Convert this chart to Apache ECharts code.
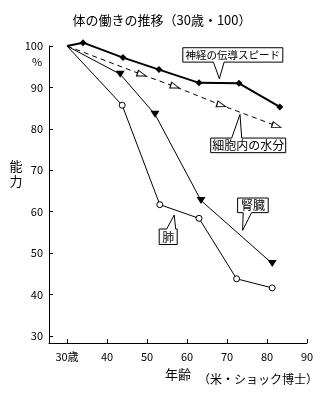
<!DOCTYPE html>
<html><head><meta charset="utf-8">
<script src="https://cdn.jsdelivr.net/npm/echarts@6/dist/echarts.min.js"></script>
<style>html,body{margin:0;padding:0;background:#fff}#c{width:328px;height:397px}</style>
</head><body><div id="c"></div>
<script>
// ---- data ----
const nerveAges = [30, 34, 44, 53, 63, 73, 83.2];
const nerveVals = [100, 100.8, 97.2, 94.3, 91.1, 91.0, 85.3];
const waterAges = [30, 48.7, 57, 68.6, 82.4];
const waterVals = [100, 93.1, 90.2, 85.7, 80.7];
const kidneyAges = [30, 43.3, 52, 63.5, 81.3];
const kidneyVals = [100, 93.2, 83.5, 62.7, 47.5];
const lungAges = [30, 43.8, 53.2, 63, 72.4, 81.3];
const lungVals = [100, 85.7, 61.7, 58.4, 43.8, 41.6];
const xTickValues = [30, 40, 50, 60, 70, 80, 90];
const xTickLabels = ['30歳', '40', '50', '60', '70', '80', '90'];
const yTickValues = [30, 40, 50, 60, 70, 80, 90, 100];
const yTickLabels = ['30', '40', '50', '60', '70', '80', '90', '100'];
const titleText = '体の働きの推移（30歳・100）';
const calloutTexts = ['神経の伝導スピード', '細胞内の水分', '腎臓', '肺'];
const calloutAnchors = [[68.1, 92.1], [73.25, 83.5], [73.9, 55.5], [56.8, 59.2]];

const FONT = '"Noto Sans CJK JP", "Noto Sans", sans-serif';
const chart = echarts.init(document.getElementById('c'));

function pts(ages, vals) {
  return ages.map((a, i) => i === 0 ? { value: [a, vals[i]], symbol: 'none' } : [a, vals[i]]);
}

chart.setOption({
  animation: false,
  backgroundColor: '#fff',
  title: {
    text: titleText, left: 157, top: 9, textAlign: 'center',
    textStyle: { fontFamily: FONT, fontSize: 13, fontWeight: 'normal', color: '#000' }
  },
  grid: { left: 49, right: 21, top: 46, bottom: 54 },
  xAxis: {
    type: 'value', min: 25.5, max: 90,
    axisLine: { lineStyle: { color: '#000', width: 1 } },
    axisTick: { inside: true, length: 4, lineStyle: { color: '#000' }, customValues: xTickValues },
    axisLabel: {
      customValues: xTickValues, margin: 8, color: '#000', fontFamily: FONT, fontSize: 11,
      formatter: v => xTickLabels[xTickValues.indexOf(v)]
    },
    splitLine: { show: false }
  },
  yAxis: {
    type: 'value', min: 28.3, max: 100,
    axisLine: { show: true, lineStyle: { color: '#000', width: 1 } },
    axisTick: { show: true, inside: true, length: 4, lineStyle: { color: '#000' }, customValues: yTickValues },
    axisLabel: {
      customValues: yTickValues, margin: 6, color: '#000', fontFamily: FONT, fontSize: 11,
      formatter: v => yTickLabels[yTickValues.indexOf(v)]
    },
    splitLine: { show: false }
  },
  series: [
    {
      name: '神経の伝導スピード', type: 'line', data: pts(nerveAges, nerveVals), clip: false,
      symbol: 'diamond', symbolSize: 7, itemStyle: { color: '#000' },
      lineStyle: { color: '#000', width: 2 }
    },
    {
      name: '細胞内の水分', type: 'line', data: pts(waterAges, waterVals), clip: false,
      symbol: 'path://M0,0 L10,4 L0,8 Z', symbolSize: [9, 6], symbolRotate: -18,
      itemStyle: { color: '#fff', borderColor: '#000', borderWidth: 1 },
      lineStyle: { color: '#000', width: 1, type: [5, 4] }
    },
    {
      name: '腎臓', type: 'line', data: pts(kidneyAges, kidneyVals), clip: false,
      symbol: 'triangle', symbolSize: [9, 7], symbolRotate: 180, itemStyle: { color: '#000' },
      lineStyle: { color: '#000', width: 1 }
    },
    {
      name: '肺', type: 'line', data: pts(lungAges, lungVals), clip: false,
      symbol: 'circle', symbolSize: 6,
      itemStyle: { color: '#fff', borderColor: '#000', borderWidth: 1 },
      lineStyle: { color: '#000', width: 1 }
    }
  ]
});

// callout shapes relative to pointer tip (px)
const shapes = [
  { poly: [[-36.6,-31],[63.4,-31],[63.4,-16.6],[4.7,-16.6],[0,0],[-6,-16.6],[-36.6,-16.6]], box: [-36.6,-31,100,14.4], fs: 10.5 },
  { poly: [[-29.3,23.7],[-8.3,23.7],[0,0],[1.7,23.7],[45.7,23.7],[45.7,38.3],[-29.3,38.3]], box: [-29.3,23.7,75,14.6], fs: 12 },
  { poly: [[-5,-32.3],[25.6,-32.3],[25.6,-17.7],[9,-17.7],[0,0],[0.6,-17.7],[-5,-17.7]], box: [-5,-32.3,30.6,14.6], fs: 12 },
  { poly: [[-15,14],[-7.5,14],[0,0],[1.5,14],[3,14],[3,29.5],[-15,29.5]], box: [-15,14,18,15.5], fs: 12 }
];
const graphics = [];
calloutAnchors.forEach((a, i) => {
  const p = chart.convertToPixel({ gridIndex: 0 }, a);
  const s = shapes[i];
  graphics.push({
    type: 'polygon', z: 100,
    shape: { points: s.poly.map(q => [p[0] + q[0], p[1] + q[1]]) },
    style: { fill: '#fff', stroke: '#000', lineWidth: 1 }
  });
  graphics.push({
    type: 'text', z: 101,
    x: p[0] + s.box[0] + s.box[2] / 2, y: p[1] + s.box[1] + s.box[3] / 2 + 0.5,
    style: { text: calloutTexts[i], fontFamily: FONT, fontSize: s.fs, fill: '#000', align: 'center', verticalAlign: 'middle' }
  });
});
graphics.push({ type: 'text', x: 37, y: 62, style: { text: '%', fontFamily: FONT, fontSize: 11, fill: '#000', align: 'center', verticalAlign: 'middle' } });
graphics.push({ type: 'text', x: 16, y: 174, style: { text: '能\n力', lineHeight: 15, fontFamily: FONT, fontSize: 13, fill: '#000', align: 'center', verticalAlign: 'middle' } });
graphics.push({ type: 'text', x: 178, y: 374.5, style: { text: '年齢', fontFamily: FONT, fontSize: 13, fill: '#000', align: 'center', verticalAlign: 'middle' } });
graphics.push({ type: 'text', x: 258, y: 379, style: { text: '（米・ショック博士）', fontFamily: FONT, fontSize: 12, fill: '#000', align: 'center', verticalAlign: 'middle' } });
chart.setOption({ graphic: graphics });
</script></body></html>
